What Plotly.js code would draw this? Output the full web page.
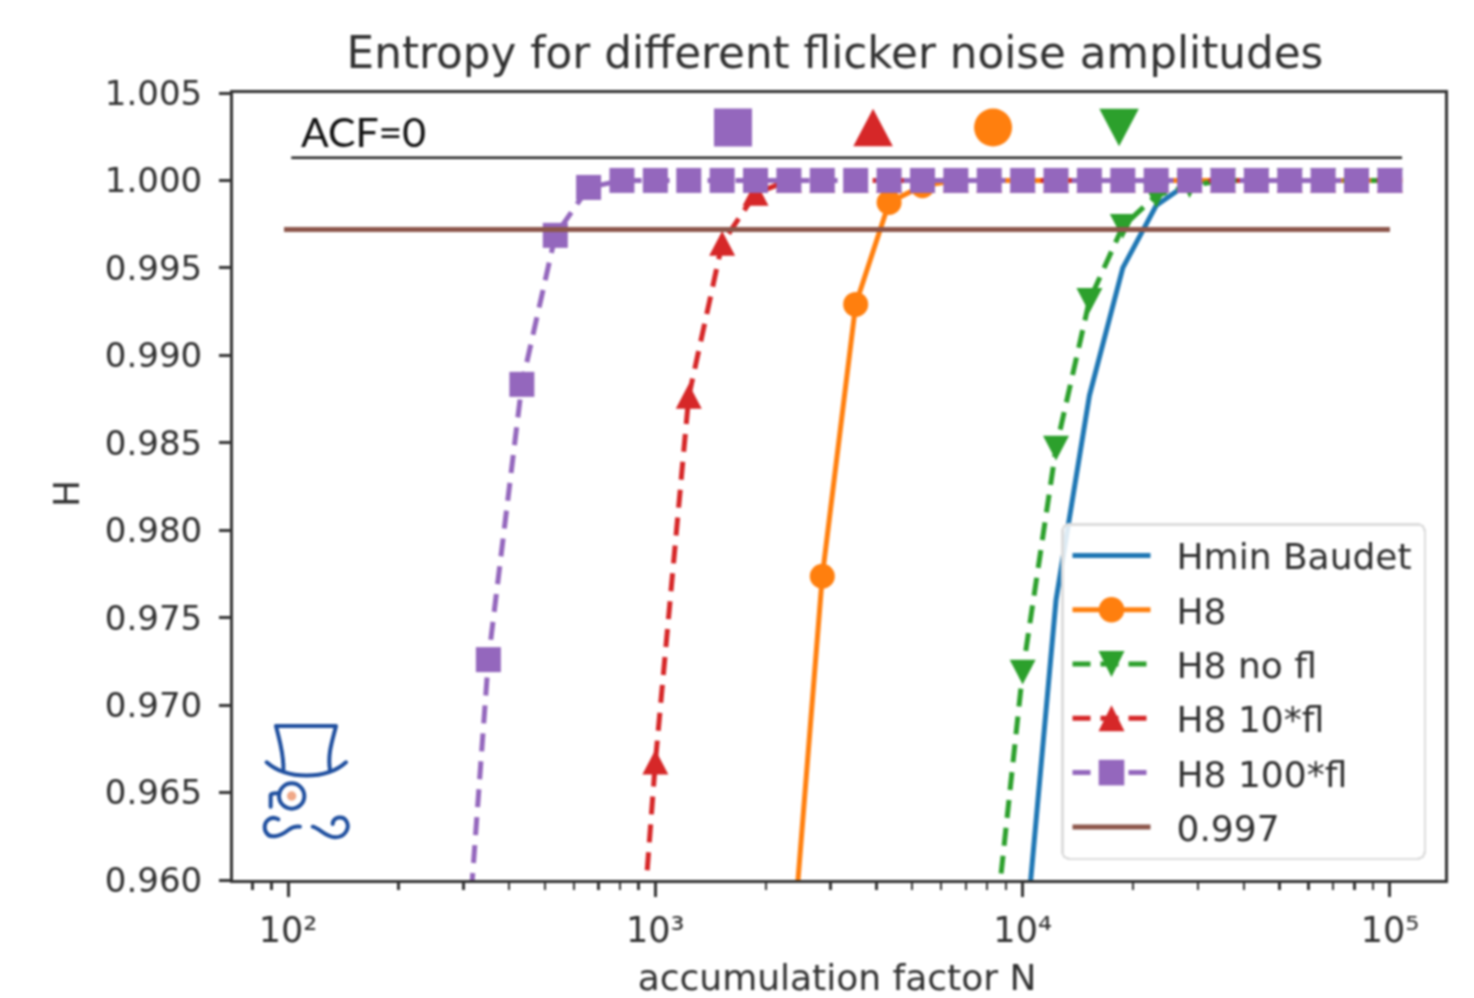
<!DOCTYPE html>
<html>
<head>
<meta charset="utf-8">
<script src="https://cdn.plot.ly/plotly-3.0.1.min.js"></script>
<style>html,body{margin:0;padding:0;background:#fff}#chart{width:1474px;height:998px;filter:blur(0.8px)}</style>
</head>
<body>
<div id="chart"></div>
<script>
const accumulationN = [100,123,152,187,231,285,351,433,534,658,811,1000,1233,1520,1874,2310,2848,3511,4329,5337,6579,8111,10000,12328,15199,18738,23101,28480,35112,43288,53367,65793,81113,100000];
const hminBaudet = [null,null,null,null,null,null,null,null,null,null,null,null,null,null,null,null,null,null,null,null,null,null,0.9549,0.976,0.9877,0.995,0.99857,0.9999,1,1,1,1,1,1];
const h8 = [null,null,null,null,null,null,null,null,null,null,null,null,null,null,null,0.9535,0.97737,0.99291,0.99874,0.9997,1,1,1,1,1,1,1,1,1,1,1,1,1,1];
const h8NoFl = [null,null,null,null,null,null,null,null,null,null,null,null,null,null,null,null,null,null,null,null,null,0.954,0.97189,0.98469,0.99314,0.99737,0.99914,0.9997,1,1,1,1,1,1];
const h810Fl = [null,null,null,null,null,null,null,null,null,null,0.9414,0.96674,0.98766,0.9964,0.99926,1,1,1,1,1,1,1,1,1,1,1,1,1,1,1,1,1,1,1];
const h8100Fl = [null,null,null,null,null,0.9466,0.9726,0.98834,0.99686,0.9996,1,1,1,1,1,1,1,1,1,1,1,1,1,1,1,1,1,1,1,1,1,1,1,1];
const thresholdN = [97.5,100000];
const thresholdH = [0.9972,0.9972];
const acfLineN = [102,107900];
const acfLineH = [1.0013,1.0013];
const keyN = [1627,3915,8308,18305];
const keyH = [1.00303,1.00303,1.00303,1.00303];
const keySymbols = ['square','triangle-up','circle','triangle-down'];
const keyColors = ['#9467bd','#d62728','#ff7f0e','#2ca02c'];
const xTickDecades = [100,1000,10000,100000];
const xTickLabels = ['10²','10³','10⁴','10⁵'];
const yTicks = [0.96,0.965,0.97,0.975,0.98,0.985,0.99,0.995,1.0,1.005];

const L=233,R=1445,T=93,B=880,W=R-L,H=B-T;
const dash='18px,10px';
function ser(name,y,color,dashStyle,sym,size){
  const t={x:accumulationN,y:y,name:name,legendgroup:name,type:'scatter',mode:sym?'lines+markers':'lines',
    line:{color:color,width:5,dash:dashStyle||'solid'}};
  if(sym)t.marker={symbol:sym,size:size,color:color};
  return t;
}
const traces=[
  ser('Hmin Baudet',hminBaudet,'#1f77b4'),
  ser('H8',h8,'#ff7f0e',null,'circle',25),
  ser('H8 no fl',h8NoFl,'#2ca02c',dash,'triangle-down',25),
  ser('H8 10*fl',h810Fl,'#d62728',dash,'triangle-up',25),
  ser('H8 100*fl',h8100Fl,'#9467bd',dash,'square',25),
  {x:thresholdN,y:thresholdH,name:'0.997',legendgroup:'0.997',type:'scatter',mode:'lines',line:{color:'#8c564b',width:5}},
  {x:acfLineN,y:acfLineH,type:'scatter',mode:'lines',showlegend:false,line:{color:'#222',width:2.5},hoverinfo:'skip'},
  {x:keyN,y:keyH,type:'scatter',mode:'markers',showlegend:false,cliponaxis:false,marker:{symbol:keySymbols,color:keyColors,size:38},hoverinfo:'skip'}
];
const logo='<svg xmlns="http://www.w3.org/2000/svg" viewBox="0 0 600 600"><g fill="none" stroke="#1f4f9f" stroke-width="12" stroke-linecap="round" stroke-linejoin="round">'+
 '<path d="M160 210C162 160 148 120 138 78L318 78C308 120 292 160 300 210"/>'+
 '<path d="M110 187C170 240 290 240 348 187"/>'+
 '<circle cx="185" cy="288" r="38"/>'+
 '<path d="M122 320L122 285Q124 278 148 280"/>'+
 '<path d="M145 358C120 345 100 365 105 390C115 420 150 410 175 390Q190 378 210 380"/>'+
 '<path d="M248 380C270 385 285 410 315 412C345 412 360 385 350 365C340 345 310 350 308 372"/>'+
 '</g><circle cx="185" cy="288" r="14" fill="#f0a888"/></svg>';
const textColor='#303030';
const layout={
  width:1474,height:998,
  margin:{l:L,r:1474-R,t:T,b:998-B,autoexpand:false},
  paper_bgcolor:'#fff',plot_bgcolor:'#fff',
  font:{family:'DejaVu Sans',color:textColor,size:35},
  title:{text:'Entropy for different flicker noise amplitudes',x:835/1474,xanchor:'center',y:1-53/998,yanchor:'middle',font:{size:43.7,color:textColor}},
  xaxis:{type:'log',range:[1.85,5.15],tickvals:xTickDecades,ticktext:xTickLabels,
    ticks:'outside',ticklen:14,tickwidth:3,tickcolor:'#333',ticklabelstandoff:3,
    minor:{ticks:'outside',ticklen:7,tickwidth:2.5,tickcolor:'#333',dtick:'D1',showgrid:false},
    showgrid:false,zeroline:false,showline:true,mirror:true,linecolor:'#333',linewidth:3,
    tickfont:{size:35},
    title:{text:'accumulation factor N',font:{size:36},standoff:25},automargin:false},
  yaxis:{range:[0.96,1.005],tickvals:yTicks,tickformat:'.3f',
    ticks:'outside',ticklen:11,tickwidth:3,tickcolor:'#333',ticklabelstandoff:10,
    showgrid:false,zeroline:false,showline:true,mirror:true,linecolor:'#333',linewidth:3,
    tickfont:{size:34},
    title:{text:'H',font:{size:36},standoff:15},automargin:false},
  legend:{x:(1426-L)/W,xanchor:'right',y:(B-523)/H,yanchor:'top',bgcolor:'rgba(255,255,255,0.85)',bordercolor:'#dcdcdc',borderwidth:2.5,
    font:{size:36,color:textColor},itemwidth:78,tracegroupgap:4.5,itemclick:false,itemdoubleclick:false},
  annotations:[{text:'ACF=0',xref:'paper',yref:'paper',x:(299-L)/W,xanchor:'left',y:(B-131)/H,yanchor:'middle',showarrow:false,font:{family:'Lato',size:41,color:'#111'}}],
  images:[{source:'data:image/svg+xml;utf8,'+encodeURIComponent(logo),xref:'paper',yref:'paper',x:(230-L)/W,y:(B-700)/H,sizex:200/W,sizey:200/H,xanchor:'left',yanchor:'top',sizing:'stretch',layer:'above'}],
  showlegend:true
};
function triangleInfo(d){
  const m=/^M(-?[\d.]+),(-?[\d.]+)H.*L0,(-?[\d.]+)Z$/.exec(d||'');
  if(!m||parseFloat(m[1])>=0)return null;
  const tip=parseFloat(m[3]);
  return {r:Math.abs(tip),up:tip<0};
}
Plotly.newPlot('chart',traces,layout,{displayModeBar:false,staticPlot:true}).then(function(gd){
  gd.querySelectorAll('.scatterlayer path.point').forEach(function(p){
    const t=triangleInfo(p.getAttribute('d'));
    if(!t)return;
    const shift=(t.up?1:-1)*t.r/4;
    p.setAttribute('transform',(p.getAttribute('transform')||'')+' scale(0.9,1.32) translate(0,'+shift+')');
  });
  gd.querySelectorAll('.legend .legendpoints path.scatterpts').forEach(function(p){
    const t=triangleInfo(p.getAttribute('d'));
    const base=p.getAttribute('transform')||'';
    if(t){
      const shift=(t.up?1:-1)*t.r/4;
      p.setAttribute('transform',base+' scale(1.41,2.17) translate(0,'+shift+')');
    }else{
      p.setAttribute('transform',base+' scale(1.6)');
    }
  });
  // Legend box: widen to the reference's size, with the wider text gap.
  const widen=31;
  const legend=gd.querySelector('.legend');
  const m=/translate\(([-\d.]+)[ ,]+([-\d.]+)\)/.exec(legend.getAttribute('transform')||'');
  if(m)legend.setAttribute('transform','translate('+(parseFloat(m[1])-widen)+','+m[2]+')');
  const box=legend.querySelector('rect.bg');
  box.setAttribute('width',parseFloat(box.getAttribute('width'))+widen);
  box.setAttribute('rx',7);box.setAttribute('ry',7);
  const scroll=legend.querySelector('.scrollbox');
  if(scroll)scroll.removeAttribute('clip-path');
  legend.querySelectorAll('text.legendtext').forEach(function(t){
    t.setAttribute('x',parseFloat(t.getAttribute('x')||0)+25);
  });
  legend.querySelectorAll('.traces .layers').forEach(function(g){g.setAttribute('transform','translate(4,0)');});
  // Axis titles: nudge to where the reference has them.
  const xt=gd.querySelector('.xtitle');
  if(xt){xt.setAttribute('x',parseFloat(xt.getAttribute('x'))-2);}
  const yt=gd.querySelector('.ytitle');
  if(yt){yt.setAttribute('transform',(yt.getAttribute('transform')||'')+' translate(-7,0)');}
});
</script>
</body>
</html>
